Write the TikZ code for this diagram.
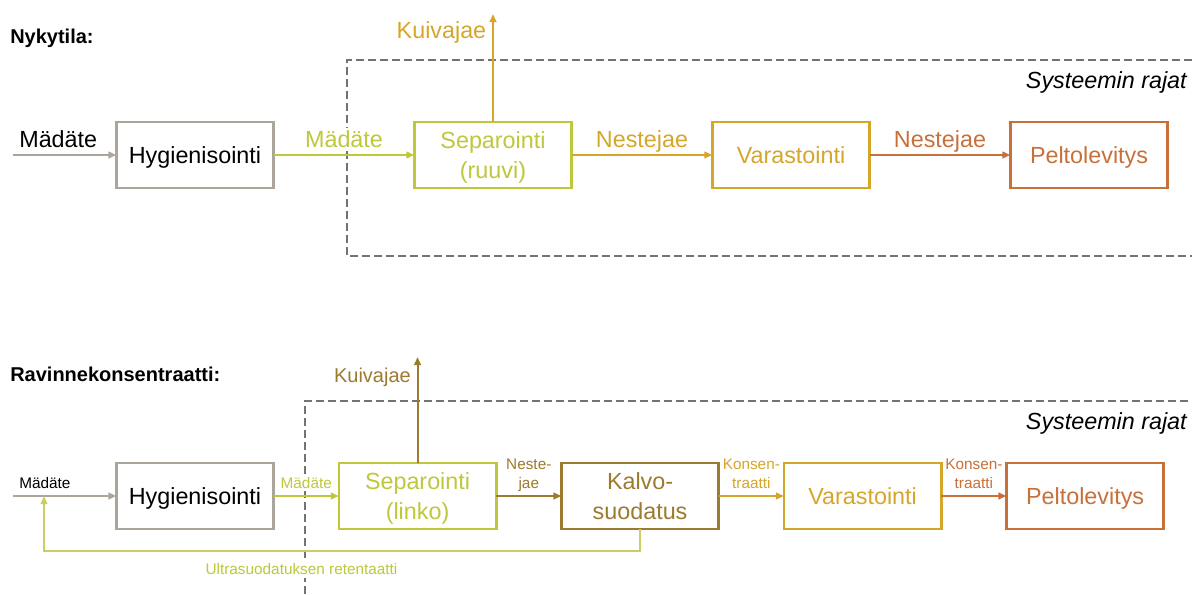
\documentclass[tikz,border=0pt]{standalone}
\usepackage{fontspec}
\setmainfont{Liberation Sans}
\usepackage{xcolor}
\usepackage{tikz}
\usetikzlibrary{positioning, arrows.meta, calc}

\definecolor{hyggray}{RGB}{172,165,155}
\definecolor{sepgreen}{RGB}{190,200,58}
\definecolor{retegreen}{RGB}{202,207,100}
\definecolor{varagold}{RGB}{214,166,42}
\definecolor{peltoorange}{RGB}{200,112,58}
\definecolor{kalvobrown}{RGB}{156,122,46}
\definecolor{rajagray}{RGB}{118,115,110}

\begin{document}
\begin{tikzpicture}[
	  x=0.75pt, y=-0.75pt,
	  font=\fontsize{17.5}{23}\selectfont,
	  box/.style={draw, line width=2pt, fill=white, align=center, inner sep=2pt, outer sep=0pt,
	    text depth=0pt, minimum width=118pt, minimum height=49.5pt},
	  arr/.style={-{Triangle[length=6pt,width=5pt]}, line width=1.5pt},
	  fbarr/.style={-{Triangle[length=6pt,width=5pt]}, line width=1.2pt, draw=retegreen},
	  lbl/.style={fill=white, inner sep=2pt, text depth=0pt},
	  small/.style={font=\fontsize{11.5}{14}\selectfont, align=center},
	  rajat/.style={draw=rajagray, line width=2.2pt, dash pattern=on 6pt off 3pt},
	  title/.style={font=\fontsize{15}{18}\selectfont\bfseries, anchor=west, inner sep=0pt},
	  note/.style={font=\fontsize{17.5}{20}\selectfont\itshape, anchor=east, inner sep=0pt}
	]
	\useasboundingbox (0,0) rectangle (1192,594);

	% Nykytila
	\node[title] (t1) at (10,38) {Nykytila:};
	\draw[rajat] (1192,60) -- (347,60) -- (347,256) -- (1192,256);
	\node[note] (raja1) at (1187,82) {Systeemin rajat};

	\node[box, draw=hyggray] (hyg1) at (195,155) {Hygienisointi};
	\node[box, draw=sepgreen, text=sepgreen, right=105.5pt of hyg1] (sep1) {Separointi\\(ruuvi)};
	\node[box, draw=varagold, text=varagold, right=105.5pt of sep1] (var1) {Varastointi};
	\node[box, draw=peltoorange, text=peltoorange, right=105.5pt of var1] (pel1) {Peltolevitys};

	\coordinate (in1) at (13,155);
	\coordinate (kv1) at ($(sep1.north)+(0,-108)$);

	\draw[arr, hyggray] (in1) -- node[lbl, pos=0, above right=3pt and 2pt, text=black] {Mädäte} (hyg1);
	\draw[arr, sepgreen] (hyg1) -- node[lbl, above=3pt] {Mädäte} (sep1);
	\draw[arr, varagold] (sep1) -- node[lbl, above=3pt] {Nestejae} (var1);
	\draw[arr, peltoorange] (var1) -- node[lbl, above=3pt] {Nestejae} (pel1);
	\draw[arr, varagold] (sep1.north) -- node[pos=0.83, left=1pt] {Kuivajae} (kv1);

	% Ravinnekonsentraatti
	\node[title] (t2) at (10,374) {Ravinnekonsentraatti:};
	\draw[rajat] (305,594) -- (305,401) -- (1192,401);
	\node[note] (raja2) at (1187,423) {Systeemin rajat};

	\node[box, draw=hyggray] (hyg2) at (195,496) {Hygienisointi};
	\node[box, draw=sepgreen, text=sepgreen, right=48.9pt of hyg2] (sep2) {Separointi\\(linko)};
	\node[box, draw=kalvobrown, text=kalvobrown, right=48.9pt of sep2] (kal2) {Kalvo-\\suodatus};
	\node[box, draw=varagold, text=varagold, right=48.9pt of kal2] (var2) {Varastointi};
	\node[box, draw=peltoorange, text=peltoorange, right=48.9pt of var2] (pel2) {Peltolevitys};

	\coordinate (in2) at (13,496);
	\coordinate (fb2) at (44,496);
	\coordinate (kv2) at ($(sep2.north)+(0,-106)$);

	\draw[arr, hyggray] (in2) -- node[lbl, small, pos=0, above right=3pt and 2pt, text=black] {Mädäte} (hyg2);
	\draw[arr, sepgreen] (hyg2) -- node[lbl, small, above=3pt] {Mädäte} (sep2);
	\draw[arr, kalvobrown] (sep2) -- node[lbl, small, above=3pt] {Neste-\\jae} (kal2);
	\draw[arr, varagold] (kal2) -- node[lbl, small, above=3pt] {Konsen-\\traatti} (var2);
	\draw[arr, peltoorange] (var2) -- node[lbl, small, above=3pt] {Konsen-\\traatti} (pel2);
	\draw[arr, kalvobrown] (sep2.north) -- node[pos=0.81, left=1pt, font=\fontsize{15}{18}\selectfont] {Kuivajae} (kv2);

	\draw[fbarr] (kal2.south) -- ++(0,22) -| node[lbl, small, pos=0.284, below=7pt, text=sepgreen] {Ultrasuodatuksen retentaatti} (fb2);

	\end{tikzpicture}
\end{document}
